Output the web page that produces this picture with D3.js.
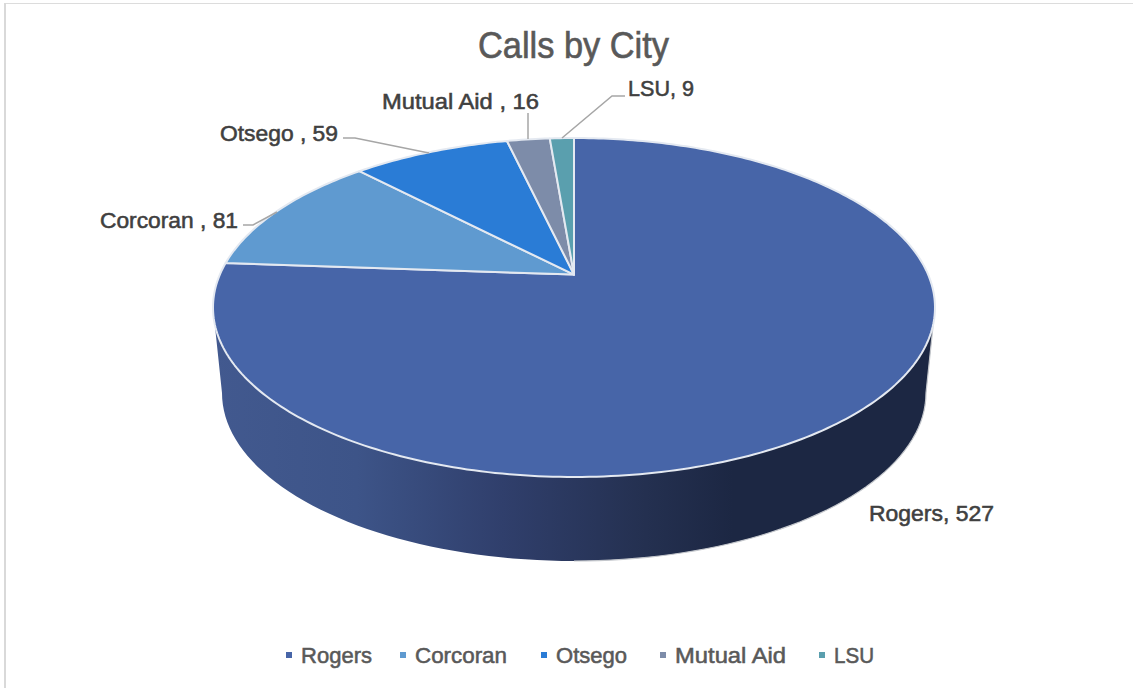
<!DOCTYPE html>
<html><head><meta charset="utf-8">
<script src="https://cdn.jsdelivr.net/npm/d3@7"></script>
<style>html,body{margin:0;padding:0;background:#fff}svg{display:block}</style>
</head><body><svg id="c" width="1133" height="688"></svg>
<script>
const titleText = "Calls by City";
const cities = ["Rogers", "Corcoran", "Otsego", "Mutual Aid", "LSU"];
const calls = [527, 81, 59, 16, 9];
const colors = ["#4765a8", "#5f9ad0", "#2a7cd6", "#7d8ca9", "#5a9fae"];
const labelTexts = ["Rogers, 527", "Corcoran , 81", "Otsego , 59", "Mutual Aid , 16", "LSU, 9"];
const FONT = "'Liberation Sans',sans-serif";

const svg = d3.select("#c");
const W = 1133, H = 688;
svg.append("rect").attr("x",4).attr("y",3).attr("width",W-4).attr("height",1).attr("fill","#dcdcdc");
svg.append("rect").attr("x",4).attr("y",3).attr("width",2).attr("height",H-3).attr("fill","#d9d9d9");

const defs = svg.append("defs");
const g = defs.append("linearGradient").attr("id","wall").attr("gradientUnits","userSpaceOnUse")
  .attr("x1",213).attr("x2",935).attr("y1",0).attr("y2",0);
[[0,"#42598f"],[0.2,"#3d5488"],[0.4,"#303f6c"],[0.6,"#243050"],[0.72,"#1c2743"],[1,"#1c2743"]]
  .forEach(s=>g.append("stop").attr("offset",s[0]).attr("stop-color",s[1]));

const xTop = d3.scaleLinear().domain([-1,1]).range([213,935]);
const yTop = d3.scaleLinear().domain([-1,1]).range([138,477]);
const xBot = d3.scaleLinear().domain([-1,1]).range([222,926]);
const yBot = d3.scaleLinear().domain([-1,1]).range([225,561]);

const tilt = -0.194;
const project = a => {
  const u = Math.sin(a), v = -Math.cos(a), d = 1 + tilt*v;
  return [u*Math.sqrt(1-tilt*tilt)/d, (v+tilt)/d];
};
const pie = d3.pie().sort(null).startAngle(0).endAngle(2*Math.PI)(calls);
const line = d3.line();
const toTop = p => [xTop(p[0]), yTop(p[1])];

const lower = d3.range(0,181,2).map(d=>d*Math.PI/180);
const wall = [...lower.map(t=>[xBot(-Math.cos(t)), yBot(Math.sin(t))]),
              ...lower.map(t=>[xTop(Math.cos(t)), yTop(Math.sin(t))])];
svg.append("path").attr("d",line(wall)+"Z").attr("fill","url(#wall)");
const rimEdge = [[xTop(1),yTop(0)],...d3.range(0,91,2).map(d=>d*Math.PI/180).map(t=>[xBot(Math.cos(t)), yBot(Math.sin(t))])];
svg.append("path").attr("d",line(rimEdge)).attr("fill","none").attr("stroke","#c4c7cc").attr("stroke-width",1.2);

const centre = toTop([0,tilt]);
pie.forEach((s,i)=>{
  const n = Math.max(2,Math.ceil((s.endAngle-s.startAngle)*60));
  const pts = d3.range(n+1).map(k=>toTop(project(s.startAngle+(s.endAngle-s.startAngle)*k/n)));
  svg.append("path").attr("d",line([centre,...pts])+"Z")
    .attr("fill",colors[i]).attr("stroke","#e4e9f1").attr("stroke-width",2).attr("stroke-linejoin","round");
});

const leaders = {1:[[243,225],[253,225],[277,212]],2:[[343,138],[355,138],[429,153]],3:[[528,113],[528,139]],4:[[625,96],[612,96],[562,138]]};
Object.values(leaders).forEach(l=>svg.append("path").attr("d",line(l)).attr("fill","none").attr("stroke","#a6a6a6").attr("stroke-width",1.5));

const labelPos = [[869,521],[100,228],[220,141],[382,109],[628,96]];
const labelWidth = [125,138,118,157,66];
labelTexts.forEach((t,i)=>svg.append("text").attr("x",labelPos[i][0]).attr("y",labelPos[i][1])
  .attr("font-family",FONT).attr("font-size",22.5).attr("fill","#404040").attr("stroke","#404040").attr("stroke-width",0.55)
  .attr("textLength",labelWidth[i]).attr("lengthAdjust","spacingAndGlyphs").text(t));

svg.append("text").attr("x",478).attr("y",58).attr("font-family",FONT).attr("font-size",36)
  .attr("fill","#595959").attr("stroke","#595959").attr("stroke-width",0.6).attr("textLength",191).attr("lengthAdjust","spacingAndGlyphs").text(titleText);

const legX = [286,400,541,660,819], legT=[301,415,556,675,834], legW=[71,92,71,111,40];
cities.forEach((c,i)=>{
  svg.append("rect").attr("x",legX[i]).attr("y",652).attr("width",6).attr("height",6).attr("fill",colors[i]);
  svg.append("text").attr("x",legT[i]).attr("y",663).attr("font-family",FONT).attr("font-size",22.5)
    .attr("fill","#595959").attr("stroke","#595959").attr("stroke-width",0.55)
    .attr("textLength",legW[i]).attr("lengthAdjust","spacingAndGlyphs").text(c);
});
</script></body></html>
